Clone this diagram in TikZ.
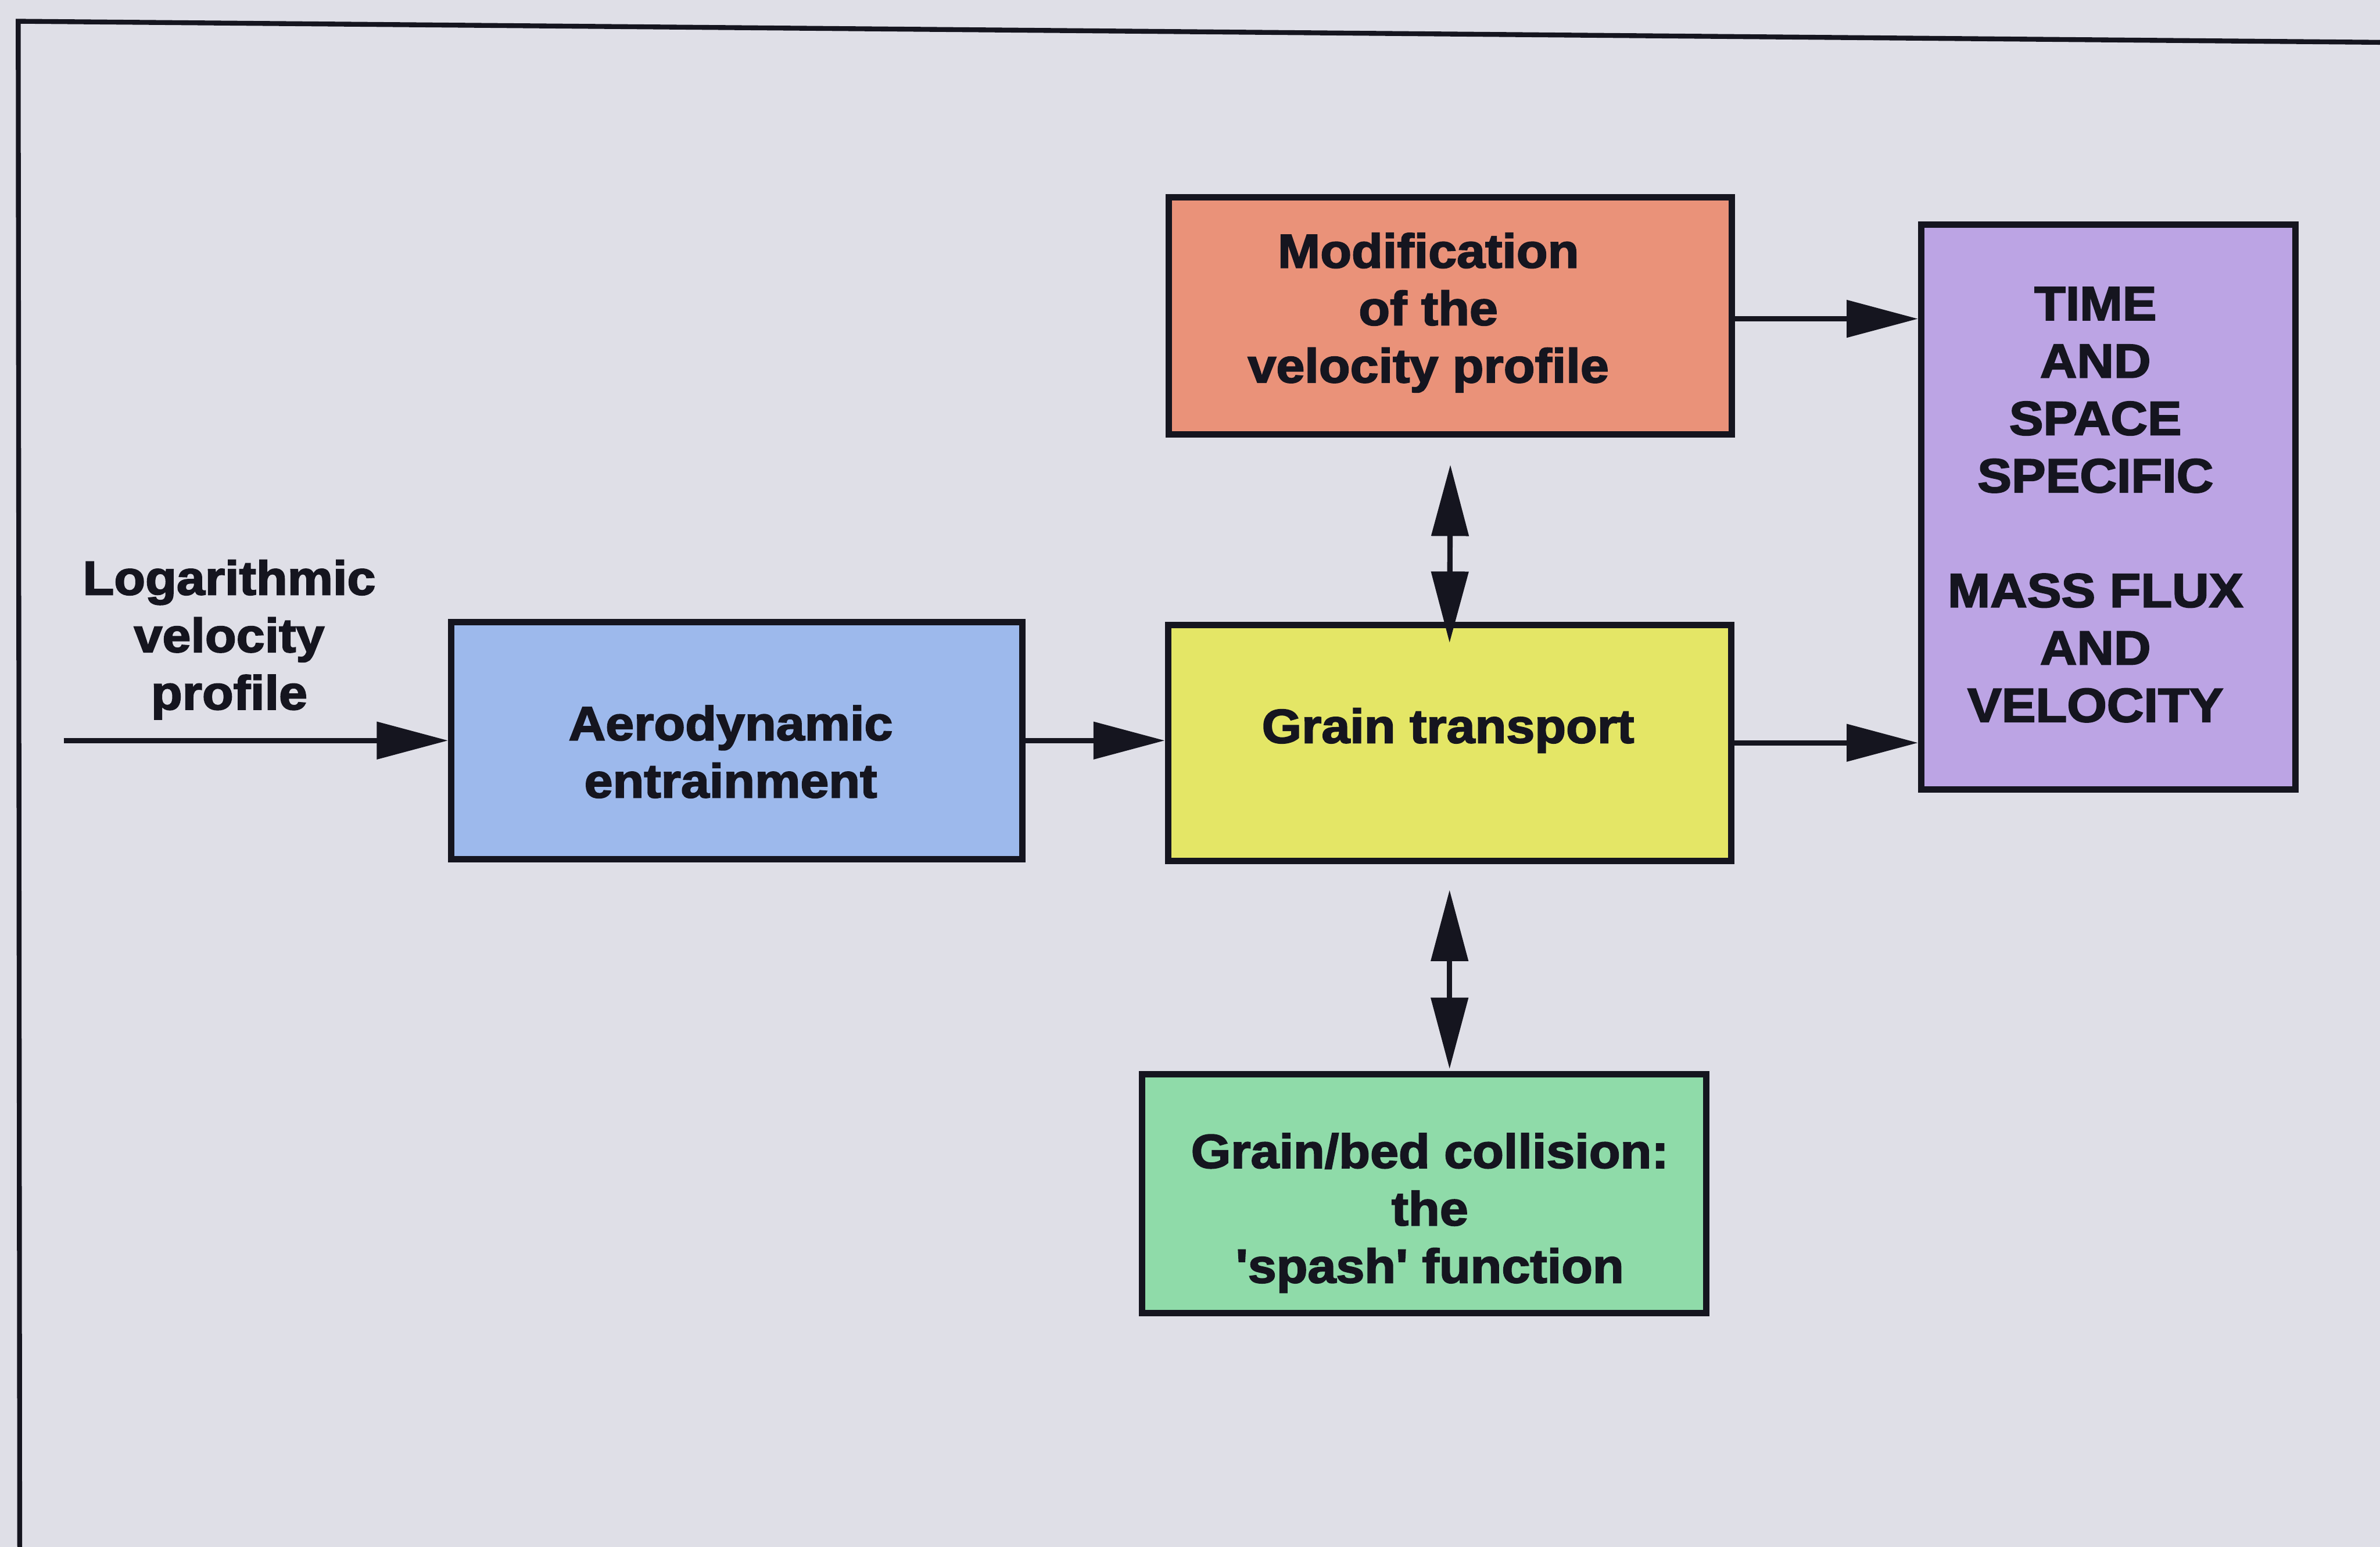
\documentclass[tikz,border=0pt]{standalone}
\usepackage{fontspec}
\newfontfamily\diag{Liberation Sans}[UprightFont=* Bold, BoldFont=* Bold, FakeStretch=1.07, FakeBold=2.5, Ligatures=TeXOff]
\usetikzlibrary{arrows.meta,calc}
\definecolor{bg}{HTML}{DFDFE7}
\definecolor{cOrange}{HTML}{EA9279}
\definecolor{cBlue}{HTML}{9DB9EC}
\definecolor{cYellow}{HTML}{E4E666}
\definecolor{cGreen}{HTML}{8FDBA9}
\definecolor{cPurple}{HTML}{BCA4E4}
\definecolor{ink}{HTML}{15151F}
\begin{document}
\begin{tikzpicture}[x=1pt,y=-1pt,
  box/.style={draw=ink, line width=4.2pt, inner sep=0pt, rectangle},
  lbl/.style={font=\diag\fontsize{31.5}{37.8}\selectfont, align=center, text=ink, inner sep=0pt},
  conn/.style={draw=ink, line width=3.5pt, -{Triangle[length=47pt,width=24pt]}},
  dconn/.style={draw=ink, line width=3.5pt, {Triangle[length=47pt,width=24pt]}-{Triangle[length=47pt,width=24pt]}},
  frameline/.style={draw=ink, line width=3.2pt}
]
\fill[bg] (0,0) rectangle (1568,1019);
\useasboundingbox (0,0) rectangle (1568,1019);

% frame of the page
\coordinate (fbl) at (13,1030);
\coordinate (ftl) at (12,14);
\coordinate (ftr) at (1580,28);
\draw[frameline, line join=miter] (fbl) -- (ftl) -- (ftr);

% boxes
\node[box, fill=cOrange, minimum width=371pt, minimum height=156pt] (mod) at (955.5,208) {};
\node[box, fill=cPurple, minimum width=246.5pt, minimum height=372pt] (out) at (1389,334) {};
\node[box, fill=cBlue, minimum width=376.3pt, minimum height=156pt] (aero) at (485.5,487.8) {};
\node[box, fill=cYellow, minimum width=371pt, minimum height=155.5pt] (grain) at (955,489.3) {};
\node[box, fill=cGreen, minimum width=371.7pt, minimum height=157.3pt] (coll) at (938.2,786.4) {};

% connectors
\coordinate (logstart) at (42,487.8);
\draw[conn] (logstart) -- (aero.west);
\draw[conn] (aero.east) -- (aero.east -| grain.west);
\draw[conn] ($(mod.east)+(0,2)$) coordinate (a1) -- (a1 -| out.west);
\draw[conn] (grain.east) -- (grain.east -| out.west);
\draw[dconn] ($(mod.south)+(0,18)$) -- ($(grain.north)+(0,14)$);
\draw[dconn] ($(grain.south)+(0,17)$) -- ($(grain.south |- coll.north)+(0,-1.5)$);

% texts
\node[lbl] (tlog) at (151,421.4) {Logarithmic\\velocity\\profile};
\node[lbl] (tmod) at (941,206) {Modification\\of the\\velocity profile};
\node[lbl] (taero) at (481.4,495.2) {Aerodynamic\\entrainment};
\node[lbl] (tgrain) at (954,481.2) {Grain transport};
\node[lbl] (tcoll) at (942,799) {Grain/bed collision:\\the\\'spash' function};
\node[lbl] (tout) at (1380.5,332.5) {TIME\\AND\\SPACE\\SPECIFIC\\[37.8pt]MASS FLUX\\AND\\VELOCITY};
\end{tikzpicture}
\end{document}
